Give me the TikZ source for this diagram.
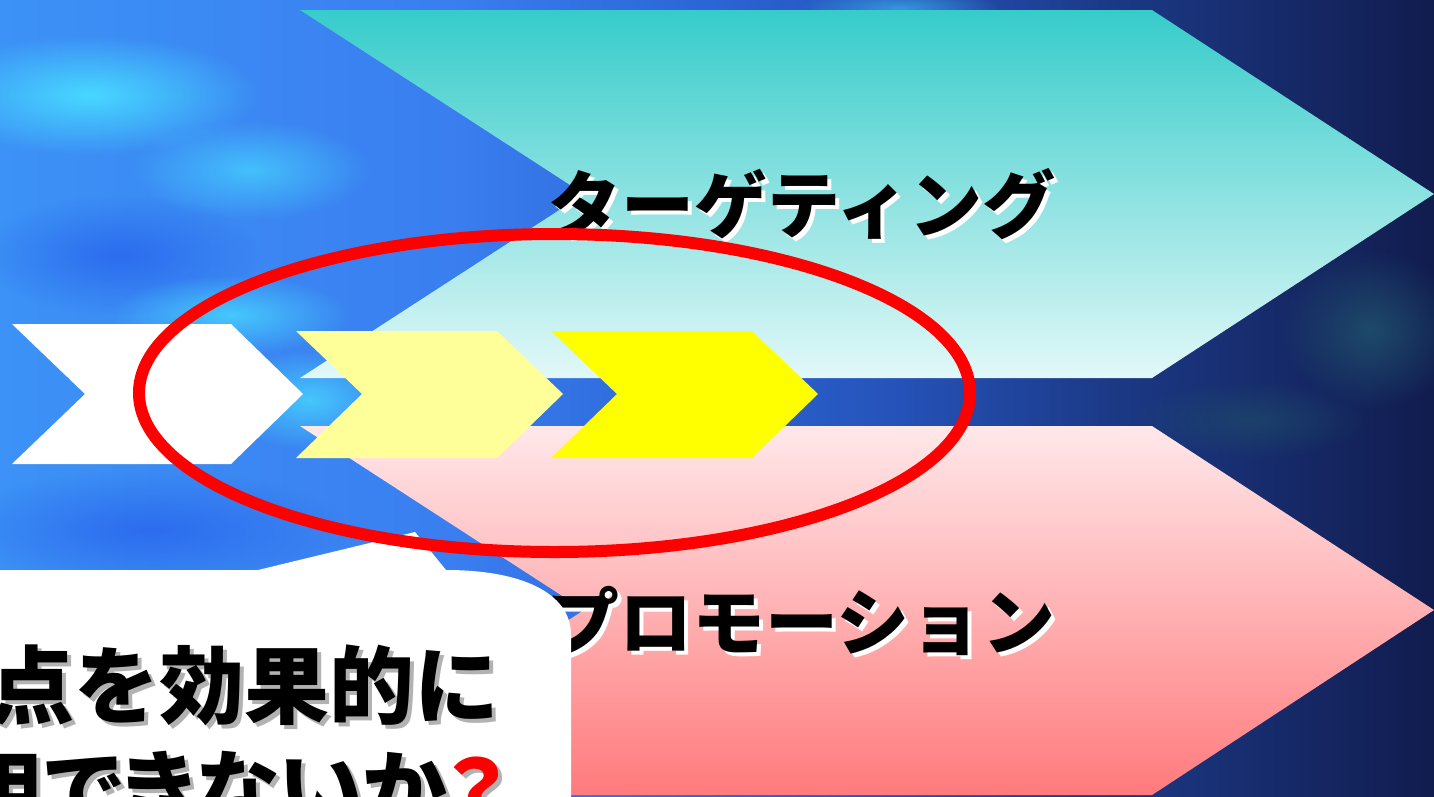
\documentclass[tikz,border=0pt]{standalone}
\usepackage{fontspec}
\newfontfamily\jpfont{Noto Sans CJK JP}
\usetikzlibrary{fadings}

\definecolor{bgA}{HTML}{3C92F6}
\definecolor{bgB}{HTML}{3A7EF0}
\definecolor{bgC}{HTML}{2C66D6}
\definecolor{bgD}{HTML}{2552B8}
\definecolor{bgE}{HTML}{1C3A88}
\definecolor{bgF}{HTML}{111C4E}
\definecolor{blobcyan}{HTML}{48D8FF}
\definecolor{blobblue}{HTML}{2C6CEE}
\definecolor{blobteal}{HTML}{1E4A6A}
\definecolor{tealtop}{HTML}{36CCCA}
\definecolor{tealbot}{HTML}{E2F8F8}
\definecolor{pinktop}{HTML}{FFE8EA}
\definecolor{pinkbot}{HTML}{FF7A7C}
\definecolor{paleyellow}{HTML}{FFFF99}
\definecolor{pureyellow}{HTML}{FFFF00}
\definecolor{qred}{HTML}{FF0000}

\pgfdeclarehorizontalshading{bgshade}{100bp}{color(0bp)=(bgA); color(25bp)=(bgA);
  color(40.7bp)=(bgB); color(49.4bp)=(bgC); color(56.4bp)=(bgD); color(63.4bp)=(bgE);
  color(75bp)=(bgF); color(100bp)=(bgF)}
\tikzfading[name=blob, inner color=transparent!0, outer color=transparent!100]

\begin{document}
\begin{tikzpicture}[x=1pt,y=-1pt]
  \tikzstyle{chev_label} = [font=\jpfont\bfseries\fontsize{73}{80}\selectfont, text=black, anchor=base, inner sep=0]
  \tikzstyle{chev_shadow} = [chev_label, text=white]
  \tikzstyle{call_label} = [font=\jpfont\bfseries\fontsize{85}{96}\selectfont, text=black, inner sep=0]
  \tikzstyle{call_shadow} = [call_label, text=black!30]
  \useasboundingbox (0,0) rectangle (1434,796);
  \clip (0,0) rectangle (1434,796);
  % background
  \shade[shading=bgshade] (0,0) rectangle (1434,796);
  \fill[blobcyan, path fading=blob] (90,95) ellipse [x radius=170, y radius=60];
  \fill[blobcyan, path fading=blob, opacity=.7] (250,170) ellipse [x radius=120, y radius=50];
  \fill[blobblue, path fading=blob] (120,255) ellipse [x radius=140, y radius=60];
  \fill[blobcyan, path fading=blob, opacity=.8] (230,315) ellipse [x radius=120, y radius=40];
  \fill[blobcyan, path fading=blob, opacity=.8] (310,400) ellipse [x radius=90, y radius=50];
  \fill[blobblue, path fading=blob] (150,530) ellipse [x radius=200, y radius=60];
  \fill[blobcyan, path fading=blob, opacity=.5] (900,8) ellipse [x radius=100, y radius=20];
  \fill[blobteal, path fading=blob] (1370,330) ellipse [x radius=90, y radius=80];
  \fill[blobteal, path fading=blob, opacity=.7] (1250,420) ellipse [x radius=120, y radius=40];
  % big chevrons
  \shade[top color=tealtop, bottom color=tealbot] (300,10) -- (1152,10) -- (1434,194) -- (1152,378) -- (300,378) -- (584,194) -- cycle;
  \shade[top color=pinktop, bottom color=pinkbot] (300,426) -- (1152,426) -- (1434,610) -- (1152,795) -- (300,795) -- (584,610) -- cycle;
  % labels
  \node[chev_shadow] (t1s) at (806,236) {ターゲティング};
  \node[chev_label] (t1) at (802,232) {ターゲティング};
  \node[chev_shadow] (t2s) at (805,653) {プロモーション};
  \node[chev_label] (t2) at (801,649) {プロモーション};
  % small chevrons
  \fill[white] (12,324) -- (231,324) -- (303,394) -- (231,464) -- (12,464) -- (85,394) -- cycle;
  \fill[paleyellow] (296,331) -- (497,331) -- (563,394) -- (497,458) -- (296,458) -- (362,394) -- cycle;
  \fill[pureyellow] (551,331) -- (752,331) -- (818,394) -- (752,458) -- (551,458) -- (617,394) -- cycle;
  % callout
  \fill[white] (-10,570) -- (258,570) -- (415,532) -- (446,570) .. controls (520,570) and (571,592) .. (571,635) -- (571,806) -- (-10,806) -- cycle;
  \node[call_shadow, anchor=base west] (q1s) at (-7,721) {点を効果的に};
  \node[call_label, anchor=base west] (q1) at (-11,717) {点を効果的に};
  \node[call_shadow, anchor=base east] (q2s) at (510,825) {\addfontfeatures{RawFeature=+palt}用できないか？};
  \node[call_label, anchor=base east] (q2) at (506,821) {\addfontfeatures{RawFeature=+palt}用できないか\textcolor{qred}{？}};
  % ring
  \draw[qred, line width=12] (554.5,393) ellipse [x radius=415.5, y radius=159];
\end{tikzpicture}
\end{document}
